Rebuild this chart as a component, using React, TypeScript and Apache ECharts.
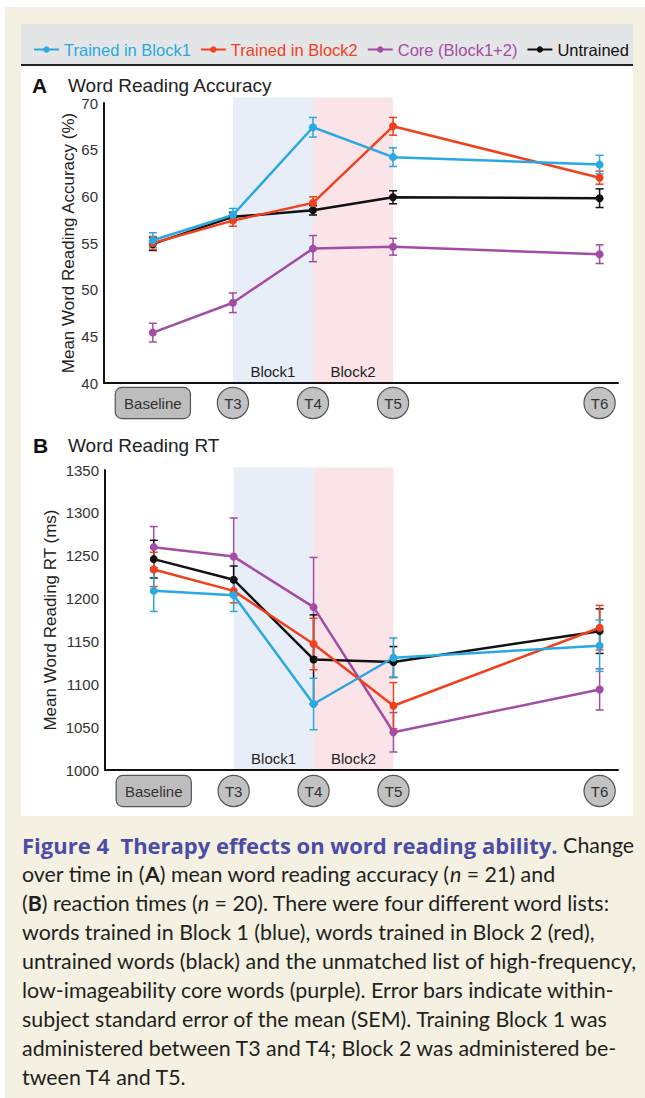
import React, { useEffect, useRef } from "react";
import * as echarts from "echarts";

// ---------- data ----------
const timeLabels = ["Baseline", "T3", "T4", "T5", "T6"];
const timeValues = [0, 1, 2, 3, 5.58];

const seriesNames = ["Trained in Block1", "Trained in Block2", "Core (Block1+2)", "Untrained"];
const seriesColors = ["#29a9e1", "#f0411f", "#a24ca6", "#111111"];

// Panel A: word reading accuracy (%)
const accBlock1 = [55.3, 58.0, 67.4, 64.2, 63.4];
const accBlock2 = [55.0, 57.4, 59.3, 67.5, 62.0];
const accCore = [45.4, 48.6, 54.4, 54.6, 53.8];
const accUntrained = [54.9, 57.8, 58.5, 59.9, 59.8];
const accBlock1Err = [0.8, 0.7, 1.05, 1.0, 1.0];
const accBlock2Err = [0.7, 0.6, 0.65, 0.95, 0.7];
const accCoreErr = [1.0, 1.05, 1.4, 0.9, 1.0];
const accUntrainedErr = [0.7, 0.5, 0.5, 0.7, 1.0];

// Panel B: word reading RT (ms)
const rtBlock1 = [1209, 1204, 1077, 1131, 1145];
const rtBlock2 = [1234, 1209, 1147, 1075, 1166];
const rtCore = [1260, 1249, 1190, 1044, 1094];
const rtUntrained = [1246, 1222, 1129, 1126, 1162];
const rtBlock1Err = [24, 19, 30, 23, 30];
const rtBlock2Err = [20, 14, 30, 27, 26];
const rtCoreErr = [24, 45, 58, 23, 24];
const rtUntrainedErr = [22, 16, 52, 18, 26];

// training blocks (between time points)
const blockLabels = ["Block1", "Block2"];
const blockFrom = [1, 2];
const blockTo = [2, 3];
const blockColors = ["#e8eef8", "#fbe4e8"];

const accTicks = { min: 40, max: 70, interval: 5, shadeTop: 70.6 };
const rtTicks = { min: 1000, max: 1350, interval: 50, shadeTop: 1353 };

const captionLines = [
  "{t|Figure 4  Therapy effects on word reading ability.} Change",
  "over time in ({b|A}) mean word reading accuracy ({i|n} = 21) and",
  "({b|B}) reaction times ({i|n} = 20). There were four different word lists:",
  "words trained in Block 1 (blue), words trained in Block 2 (red),",
  "untrained words (black) and the unmatched list of high-frequency,",
  "low-imageability core words (purple). Error bars indicate within-",
  "subject standard error of the mean (SEM). Training Block 1 was",
  "administered between T3 and T4; Block 2 was administered be-",
  "tween T4 and T5.",
];

const FONT = "Liberation Sans";
const CAP_FONT = "Lato";
const CAP_SIZE = 21.4;

function App() {
  const ref = useRef<HTMLDivElement>(null);

  useEffect(() => {
    document.body.style.margin = "0";
    if (!ref.current) return;
    const chart = echarts.init(ref.current, null, { renderer: "svg" });

    const accVals = [accBlock1, accBlock2, accCore, accUntrained];
    const accErrs = [accBlock1Err, accBlock2Err, accCoreErr, accUntrainedErr];
    const rtVals = [rtBlock1, rtBlock2, rtCore, rtUntrained];
    const rtErrs = [rtBlock1Err, rtBlock2Err, rtCoreErr, rtUntrainedErr];

    const shadeSeries = (idx: number, ticks: any) => ({
      type: "custom",
      xAxisIndex: idx,
      yAxisIndex: idx,
      clip: false,
      silent: true,
      z: 0,
      data: blockLabels.map((_, i) => [blockFrom[i], blockTo[i], i]),
      renderItem: (params: any, api: any) => {
        const i = api.value(2);
        const p1 = api.coord([api.value(0), ticks.shadeTop]);
        const p2 = api.coord([api.value(1), ticks.min]);
        return {
          type: "group",
          children: [
            {
              type: "rect",
              shape: { x: p1[0], y: p1[1], width: p2[0] - p1[0], height: p2[1] - p1[1] },
              style: { fill: blockColors[i] },
            },
            {
              type: "text",
              x: (p1[0] + p2[0]) / 2,
              y: p2[1] - 12,
              style: {
                text: blockLabels[i],
                fill: "#222",
                fontFamily: FONT,
                fontSize: 15,
                align: "center",
                verticalAlign: "middle",
              },
            },
          ],
        };
      },
    });

    const errSeries = (idx: number, vals: number[], errs: number[], color: string) => ({
      type: "custom",
      xAxisIndex: idx,
      yAxisIndex: idx,
      clip: false,
      silent: true,
      z: 3,
      data: vals.map((v, k) => [timeValues[k], v, errs[k]]),
      encode: { x: 0, y: 1 },
      renderItem: (params: any, api: any) => {
        const x = api.value(0);
        const y = api.value(1);
        const e = api.value(2);
        const hi = api.coord([x, y + e]);
        const lo = api.coord([x, y - e]);
        const w = 4;
        const st = { stroke: color, lineWidth: 1.5 };
        return {
          type: "group",
          children: [
            { type: "line", shape: { x1: hi[0], y1: hi[1], x2: lo[0], y2: lo[1] }, style: st },
            { type: "line", shape: { x1: hi[0] - w, y1: hi[1], x2: hi[0] + w, y2: hi[1] }, style: st },
            { type: "line", shape: { x1: lo[0] - w, y1: lo[1], x2: lo[0] + w, y2: lo[1] }, style: st },
          ],
        };
      },
    });

    const lineSeries = (idx: number, vals: number[], k: number) => ({
      type: "line",
      name: seriesNames[k],
      xAxisIndex: idx,
      yAxisIndex: idx,
      data: vals.map((v, j) => [timeValues[j], v]),
      symbol: "circle",
      symbolSize: 8,
      z: 4,
      lineStyle: { color: seriesColors[k], width: 2.5 },
      itemStyle: { color: seriesColors[k] },
    });

    const order = [2, 3, 1, 0];
    const series: any[] = [shadeSeries(0, accTicks), shadeSeries(1, rtTicks)];
    order.forEach((k) => {
      series.push(errSeries(0, accVals[k], accErrs[k], seriesColors[k]));
      series.push(errSeries(1, rtVals[k], rtErrs[k], seriesColors[k]));
    });
    order.forEach((k) => {
      series.push(lineSeries(0, accVals[k], k));
      series.push(lineSeries(1, rtVals[k], k));
    });

    const xAxisBase = (idx: number, margin: number) => ({
      type: "value",
      gridIndex: idx,
      min: -0.61,
      max: 5.81,
      splitLine: { show: false },
      axisTick: { show: false },
      axisLine: { onZero: false, lineStyle: { color: "#111", width: 2 } },
      axisLabel: {
        customValues: timeValues,
        margin,
        formatter: (v: number) => {
          const k = timeValues.findIndex((t) => Math.abs(t - v) < 1e-6);
          if (k < 0) return "";
          return k === 0 ? `{box|${timeLabels[k]}}` : `{circ|${timeLabels[k]}}`;
        },
        rich: {
          box: {
            fontFamily: FONT,
            fontSize: 15,
            color: "#333",
            backgroundColor: "#bdbdbd",
            borderColor: "#555",
            borderWidth: 1.2,
            borderRadius: 6,
            width: 74,
            height: 30,
            lineHeight: 30,
            align: "center",
          },
          circ: {
            fontFamily: FONT,
            fontSize: 15,
            color: "#333",
            backgroundColor: "#c2c2c2",
            borderColor: "#555",
            borderWidth: 1.2,
            borderRadius: 15,
            width: 30,
            height: 30,
            lineHeight: 30,
            align: "center",
          },
        },
      },
    });

    const yAxisBase = (idx: number, ticks: any, name: string, gap: number) => ({
      type: "value",
      gridIndex: idx,
      min: ticks.min,
      max: ticks.max,
      interval: ticks.interval,
      name,
      nameLocation: "middle",
      nameGap: gap,
      nameMoveOverlap: false,
      nameTextStyle: { fontFamily: FONT, fontSize: 17, color: "#222" },
      splitLine: { show: false },
      axisTick: { show: false },
      axisLine: { onZero: false, lineStyle: { color: "#111", width: 2 } },
      axisLabel: {
        fontFamily: FONT,
        fontSize: 15,
        color: "#333",
        margin: 6,
        formatter: (v: number) => String(v),
      },
    });

    const captionGraphics = captionLines.map((line, i) => ({
      type: "text",
      left: 22,
      top: 834 + i * 29,
      style: {
        text: line,
        fontFamily: CAP_FONT,
        fontSize: CAP_SIZE,
        fill: "#231f20",
        rich: {
          t: { fill: "#4b4ca6", fontWeight: "bold", fontSize: 22, fontFamily: "Open Sans" },
          b: { fill: "#231f20", fontWeight: "bold", fontSize: CAP_SIZE, fontFamily: CAP_FONT },
          i: { fill: "#231f20", fontStyle: "italic", fontSize: CAP_SIZE, fontFamily: CAP_FONT },
        },
      },
    }));

    const option: any = {
      animation: false,
      backgroundColor: "#ffffff",
      graphic: [
        { type: "rect", z: -10, shape: { x: 5, y: 7, width: 640, height: 1091 }, style: { fill: "#f4f0e2" } },
        { type: "rect", z: -9, shape: { x: 21, y: 24, width: 612, height: 792 }, style: { fill: "#ffffff" } },
        { type: "rect", z: -8, shape: { x: 21, y: 24, width: 612, height: 40 }, style: { fill: "#e4e5e7" } },
        { type: "line", z: -7, shape: { x1: 21, y1: 65, x2: 633, y2: 65 }, style: { stroke: "#222", lineWidth: 2 } },
        { type: "text", x: 32, y: 85, style: { text: "A", fontFamily: FONT, fontWeight: "bold", fontSize: 21, fill: "#111", verticalAlign: "middle" } },
        { type: "text", x: 68, y: 85, style: { text: "Word Reading Accuracy", fontFamily: FONT, fontSize: 19, fill: "#222", verticalAlign: "middle" } },
        { type: "text", x: 33, y: 445, style: { text: "B", fontFamily: FONT, fontWeight: "bold", fontSize: 21, fill: "#111", verticalAlign: "middle" } },
        { type: "text", x: 68, y: 445, style: { text: "Word Reading RT", fontFamily: FONT, fontSize: 19, fill: "#222", verticalAlign: "middle" } },
        ...captionGraphics,
      ],
      legend: {
        left: 33,
        top: 41,
        padding: 0,
        itemWidth: 25,
        itemHeight: 8,
        itemGap: 9,
        data: seriesNames.map((n, k) => ({
          name: n,
          textStyle: { color: seriesColors[k], fontSize: 16.5, fontFamily: FONT },
        })),
        textStyle: { fontSize: 16.5, fontFamily: FONT },
      },
      grid: [
        { left: 104, top: 103, width: 514, height: 280 },
        { left: 105, top: 470, width: 513, height: 300 },
      ],
      xAxis: [xAxisBase(0, 5), xAxisBase(1, 6)],
      yAxis: [
        yAxisBase(0, accTicks, "Mean Word Reading Accuracy (%)", 27),
        yAxisBase(1, rtTicks, "Mean Word Reading RT (ms)", 46),
      ],
      series,
    };

    chart.setOption(option);
    return () => chart.dispose();
  }, []);

  return <div ref={ref} style={{ width: 645, height: 1098 }} />;
}

export default App;
